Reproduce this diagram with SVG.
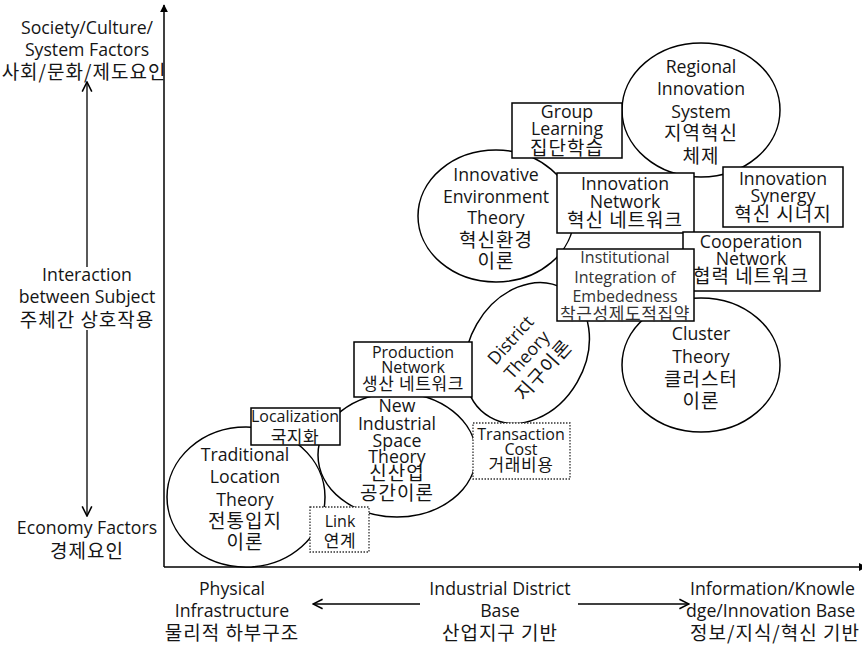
<svg xmlns="http://www.w3.org/2000/svg" width="862" height="645" viewBox="0 0 862 645">
<style>
text{font-family:"Open Sans","Noto Sans CJK KR",sans-serif;font-size:17.7px;fill:#151515;text-anchor:middle}
.k{font-family:"Noto Sans CJK KR","Open Sans",sans-serif;font-size:19px;letter-spacing:1px}
.s{font-size:16px}
.sk{font-family:"Noto Sans CJK KR","Open Sans",sans-serif;font-size:17px;letter-spacing:0.6px}
.g{fill:#333}
.e{fill:#fff;stroke:#000;stroke-width:1.5}
.b{fill:#fff;stroke:#000;stroke-width:1.5}
.d{fill:#fff;stroke:#333;stroke-width:1.3;stroke-dasharray:1.5 1.5}
.ax{stroke:#000;stroke-width:1.5;fill:none}
.ar{stroke:#000;stroke-width:1.3;fill:none}
</style>
<defs>
<marker id="tri" viewBox="0 0 10 10" refX="9" refY="5" markerWidth="8" markerHeight="8" markerUnits="userSpaceOnUse" orient="auto"><path d="M0,0L10,5L0,10z" fill="#000"/></marker>
<marker id="chev" viewBox="0 0 10 10" refX="9" refY="5" markerWidth="12" markerHeight="12" markerUnits="userSpaceOnUse" orient="auto"><path d="M1,1L9,5L1,9" fill="none" stroke="#000" stroke-width="1.3"/></marker>
</defs>
<g id="connectors">
<line class="ax" x1="164" y1="567" x2="164" y2="5" marker-end="url(#tri)"/>
<line class="ax" x1="164" y1="567" x2="866" y2="567" marker-end="url(#tri)"/>
<line class="ar" x1="87" y1="267" x2="87" y2="82" marker-end="url(#chev)"/>
<line class="ar" x1="87" y1="330" x2="87" y2="516" marker-end="url(#chev)"/>
<line class="ar" x1="420" y1="604" x2="313" y2="604" marker-end="url(#chev)"/>
<line class="ar" x1="578" y1="604" x2="689" y2="604" marker-end="url(#chev)"/>
</g>
<g id="axis-labels">
<text x="87" y="34">Society/Culture/</text>
<text x="87" y="56">System Factors</text>
<text class="k" x="84" y="79">사회/문화/제도요인</text>
<text x="87" y="281">Interaction</text>
<text x="87" y="303">between Subject</text>
<text class="k" x="87" y="327">주체간 상호작용</text>
<text x="87" y="534">Economy Factors</text>
<text class="k" x="87" y="558">경제요인</text>
<text x="232" y="595">Physical</text>
<text x="232" y="617">Infrastructure</text>
<text class="k" x="232" y="640">물리적 하부구조</text>
<text x="500" y="595">Industrial District</text>
<text x="500" y="617">Base</text>
<text class="k" x="500" y="640">산업지구 기반</text>
<text x="690" y="595" style="text-anchor:start">Information/Knowle</text>
<text x="686" y="617" style="text-anchor:start">dge/Innovation Base</text>
<text class="k" x="690" y="640" style="text-anchor:start">정보/지식/혁신 기반</text>
</g>
<g id="traditional">
<ellipse class="e" cx="246" cy="497" rx="79" ry="70"/>
<text x="245" y="461">Traditional</text>
<text x="245" y="483">Location</text>
<text x="245" y="506">Theory</text>
<text class="k" x="245" y="528">전통입지</text>
<text class="k" x="245" y="549">이론</text>
</g>
<g id="newindustrial">
<ellipse class="e" cx="397" cy="455" rx="79" ry="62"/>
<text x="397" y="412">New</text>
<text x="397" y="430">Industrial</text>
<text x="397" y="447">Space</text>
<text x="397" y="463">Theory</text>
<text class="k" x="397" y="480">신산업</text>
<text class="k" x="397" y="500">공간이론</text>
</g>
<g id="district">
<ellipse class="e" cx="0" cy="0" rx="74" ry="58" transform="translate(527,353) rotate(-60)"/>
<g transform="translate(527,355) rotate(-48)">
<text x="0" y="-16">District</text>
<text x="0" y="6">Theory</text>
<text class="k" x="0" y="29">지구이론</text>
</g>
</g>
<g id="innovenv">
<ellipse class="e" cx="496" cy="216" rx="78" ry="66"/>
<text x="496" y="181">Innovative</text>
<text x="496" y="203">Environment</text>
<text x="496" y="224">Theory</text>
<text class="k" x="496" y="247">혁신환경</text>
<text class="k" x="496" y="268">이론</text>
</g>
<g id="regional">
<ellipse class="e" cx="701" cy="110" rx="79" ry="67"/>
<text x="701" y="73">Regional</text>
<text x="701" y="95">Innovation</text>
<text x="701" y="118">System</text>
<text class="k" x="701" y="140">지역혁신</text>
<text class="k" x="701" y="163">체제</text>
</g>
<g id="cluster">
<ellipse class="e" cx="701" cy="365" rx="79" ry="67"/>
<text x="701" y="340">Cluster</text>
<text x="701" y="363">Theory</text>
<text class="k" x="701" y="386">클러스터</text>
<text class="k" x="701" y="408">이론</text>
</g>
<g id="grouplearning">
<rect class="b" x="512" y="103" width="110" height="55"/>
<text x="567" y="118">Group</text>
<text x="567" y="135">Learning</text>
<text class="k" x="567" y="155">집단학습</text>
</g>
<g id="innovnetwork">
<rect class="b" x="557" y="173" width="137" height="60"/>
<text x="625" y="190">Innovation</text>
<text x="625" y="208">Network</text>
<text class="k" x="625" y="227">혁신 네트워크</text>
</g>
<g id="synergy">
<rect class="b" x="723" y="167" width="120" height="60"/>
<text x="783" y="185">Innovation</text>
<text x="783" y="202">Synergy</text>
<text class="k" x="783" y="221">혁신 시너지</text>
</g>
<g id="cooperation">
<rect class="b" x="683" y="232" width="137" height="59"/>
<text x="751" y="248">Cooperation</text>
<text x="751" y="265">Network</text>
<text class="k" x="751" y="283">협력 네트워크</text>
</g>
<g id="institutional">
<rect class="b" x="557" y="249" width="137" height="72"/>
<text class="s g" x="625" y="263">Institutional</text>
<text class="s g" x="625" y="283">Integration of</text>
<text class="s g" x="625" y="302">Embededness</text>
<text class="sk g" x="625" y="320">착근성제도적집약</text>
</g>
<g id="production">
<rect class="b" x="354" y="342" width="118" height="55"/>
<text class="s" x="413" y="358">Production</text>
<text class="s" x="413" y="373">Network</text>
<text class="sk" x="413" y="390">생산 네트워크</text>
</g>
<g id="localization">
<rect class="b" x="251" y="408" width="89" height="37"/>
<text class="s" x="295" y="422">Localization</text>
<text class="sk" x="295" y="443">국지화</text>
</g>
<g id="transaction">
<rect class="d" x="473" y="423" width="97" height="56"/>
<text class="s" x="521" y="440">Transaction</text>
<text class="s" x="521" y="455">Cost</text>
<text class="sk" x="521" y="471">거래비용</text>
</g>
<g id="link">
<rect class="d" x="310" y="507" width="59" height="45"/>
<text class="s" x="340" y="527">Link</text>
<text class="sk" x="340" y="547">연계</text>
</g>
</svg>
